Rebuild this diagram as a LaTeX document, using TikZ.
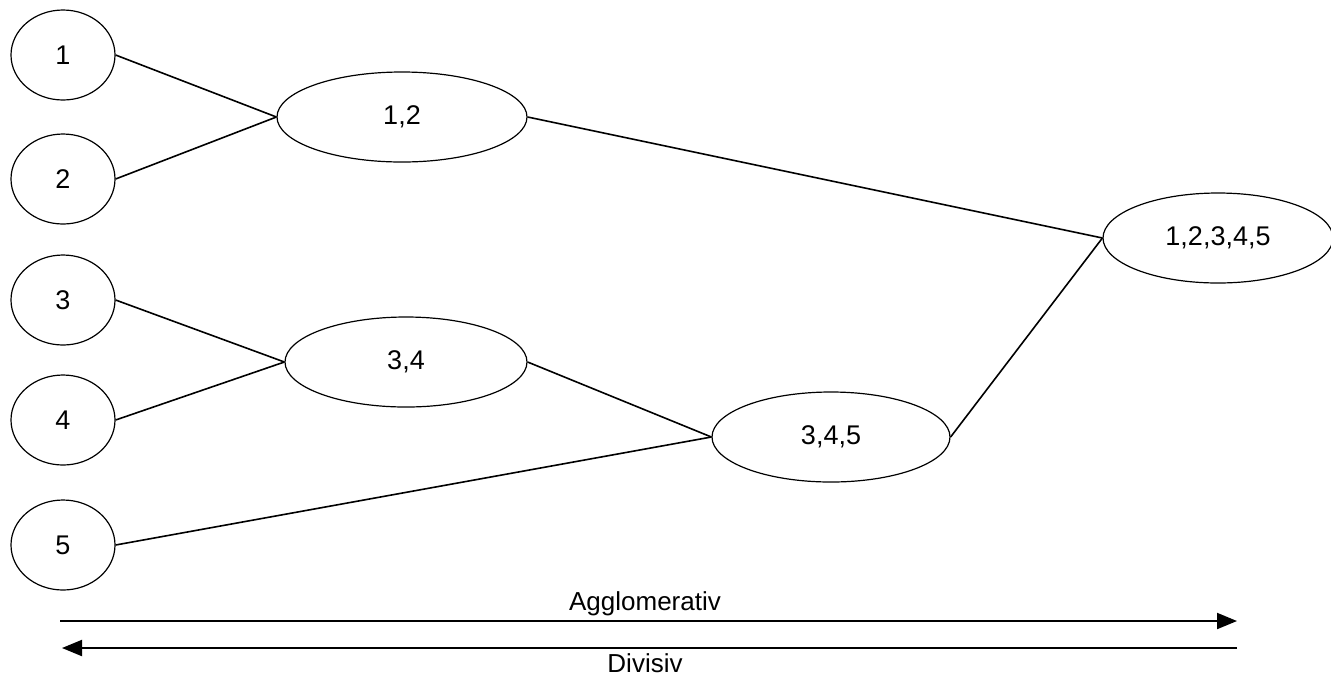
\documentclass[tikz,border=0pt]{standalone}
\usepackage{fontspec}
\setmainfont{Liberation Sans}
\usetikzlibrary{shapes.geometric,arrows.meta}
\begin{document}
\begin{tikzpicture}[x=0.5pt,y=-0.5pt,
  leaf/.style={draw,ellipse,line width=0.6pt,inner sep=0pt,
    minimum width=52pt,minimum height=45pt,font=\fontsize{13.5}{15}\selectfont},
  cluster/.style={draw,ellipse,line width=0.6pt,inner sep=0pt,
    minimum height=45pt,font=\fontsize{13.5}{15}\selectfont},
  link/.style={line width=0.8pt},
  dirarrow/.style={line width=1pt,-{Triangle[length=10pt,width=8pt]}},
  dirlabel/.style={font=\fontsize{13}{15}\selectfont}]
\useasboundingbox (0,0) rectangle (1331,676);
% single objects
\node[leaf] (n1) at (63,55) {1};
\node[leaf] (n2) at (63,179) {2};
\node[leaf] (n3) at (63,300) {3};
\node[leaf] (n4) at (63,420) {4};
\node[leaf] (n5) at (63,545) {5};
% merged clusters
\node[cluster,minimum width=125pt] (c12) at (402,117) {1,2};
\node[cluster,minimum width=121pt] (c34) at (406,362) {3,4};
\node[cluster,minimum width=119pt] (c345) at (831,437) {3,4,5};
\node[cluster,minimum width=115pt] (call) at (1218,238) {1,2,3,4,5};
% merge links
\draw[link] (n1.east) -- (c12.west);
\draw[link] (n2.east) -- (c12.west);
\draw[link] (n3.east) -- (c34.west);
\draw[link] (n4.east) -- (c34.west);
\draw[link] (c34.east) -- (c345.west);
\draw[link] (n5.east) -- (c345.west);
\draw[link] (c12.east) -- (call.west);
\draw[link] (c345.east) -- (call.west);
% direction of clustering
\coordinate (aggL) at (60,621);
\coordinate (aggR) at (1237,621);
\coordinate (divL) at (62,648);
\coordinate (divR) at (1237,648);
\draw[dirarrow] (aggL) -- (aggR);
\draw[dirarrow] (divR) -- (divL);
\node[dirlabel] (agg) at (645,604) {Agglomerativ};
\node[dirlabel] (div) at (645,663) {Divisiv};
\end{tikzpicture}
\end{document}
